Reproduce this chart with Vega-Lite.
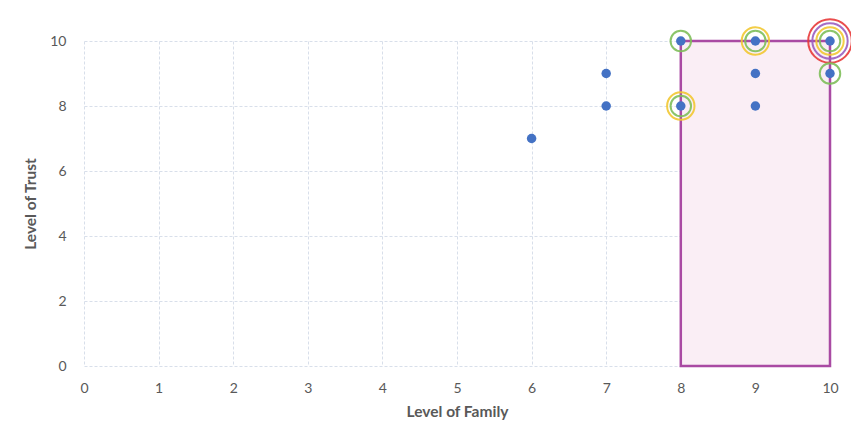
{
  "$schema": "https://vega.github.io/schema/vega-lite/v6.json",
  "width": 746,
  "height": 325,
  "autosize": {"type": "none"},
  "padding": {"left": 84, "top": 41, "right": 21, "bottom": 69},
  "background": "white",
  "config": {
    "view": {"stroke": null},
    "font": "Lato",
    "axis": {
      "labelFont": "Lato",
      "titleFont": "Lato",
      "labelColor": "#595959",
      "titleColor": "#595959",
      "labelFontSize": 14,
      "titleFontSize": 15.5,
      "titleFontWeight": "bold",
      "gridColor": "#d8dfea",
      "gridDash": [3, 2],
      "gridWidth": 1,
      "ticks": false,
      "domain": false,
      "labelFlush": false
    }
  },
  "datasets": {
    "box": [{"family": 8, "family2": 10, "trust": 0, "trust2": 10}],
    "points": [
      {"family": 6, "trust": 7},
      {"family": 7, "trust": 9},
      {"family": 7, "trust": 8},
      {"family": 8, "trust": 10},
      {"family": 8, "trust": 8},
      {"family": 9, "trust": 10},
      {"family": 9, "trust": 9},
      {"family": 9, "trust": 8},
      {"family": 10, "trust": 10},
      {"family": 10, "trust": 9}
    ],
    "rings": [
      {"family": 8, "trust": 10, "ring": "green"},
      {"family": 9, "trust": 10, "ring": "green"},
      {"family": 9, "trust": 10, "ring": "yellow"},
      {"family": 8, "trust": 8, "ring": "green"},
      {"family": 8, "trust": 8, "ring": "yellow"},
      {"family": 10, "trust": 9, "ring": "green"},
      {"family": 10, "trust": 10, "ring": "green"},
      {"family": 10, "trust": 10, "ring": "yellow"},
      {"family": 10, "trust": 10, "ring": "purple"},
      {"family": 10, "trust": 10, "ring": "red"}
    ]
  },
  "encoding": {
    "x": {
      "field": "family", "type": "quantitative",
      "scale": {"domain": [0, 10], "nice": false},
      "axis": {"title": "Level of Family", "values": [0,1,2,3,4,5,6,7,8,9,10], "tickCount": 11, "labelPadding": 15, "titlePadding": 9, "grid": true}
    },
    "y": {
      "field": "trust", "type": "quantitative",
      "scale": {"domain": [0, 10], "nice": false},
      "axis": {"title": "Level of Trust", "values": [0,2,4,6,8,10], "tickCount": 6, "labelPadding": 18, "titlePadding": 11, "grid": true}
    }
  },
  "layer": [
    {
      "data": {"name": "box"},
      "mark": {"type": "rect", "fill": "#faeef5", "stroke": "#a94aa3", "strokeWidth": 2.5},
      "encoding": {
        "x2": {"field": "family2"},
        "y2": {"field": "trust2"}
      }
    },
    {
      "data": {"name": "rings"},
      "transform": [{"filter": "datum.ring === 'red'"}],
      "mark": {"type": "point", "shape": "circle", "filled": false, "strokeWidth": 2, "color": "#e83a3a", "size": 1900, "opacity": 0.9}
    },
    {
      "data": {"name": "rings"},
      "transform": [{"filter": "datum.ring === 'purple'"}],
      "mark": {"type": "point", "shape": "circle", "filled": false, "strokeWidth": 2, "color": "#9b5fc0", "size": 1250, "opacity": 0.9}
    },
    {
      "data": {"name": "rings"},
      "transform": [{"filter": "datum.ring === 'yellow'"}],
      "mark": {"type": "point", "shape": "circle", "filled": false, "strokeWidth": 2, "color": "#f2c832", "size": 750, "opacity": 0.9}
    },
    {
      "data": {"name": "rings"},
      "transform": [{"filter": "datum.ring === 'green'"}],
      "mark": {"type": "point", "shape": "circle", "filled": false, "strokeWidth": 2, "color": "#7fbf5a", "size": 420, "opacity": 0.9}
    },
    {
      "data": {"name": "points"},
      "mark": {"type": "point", "shape": "circle", "filled": true, "color": "#4472c4", "opacity": 1, "size": 90}
    }
  ]
}
